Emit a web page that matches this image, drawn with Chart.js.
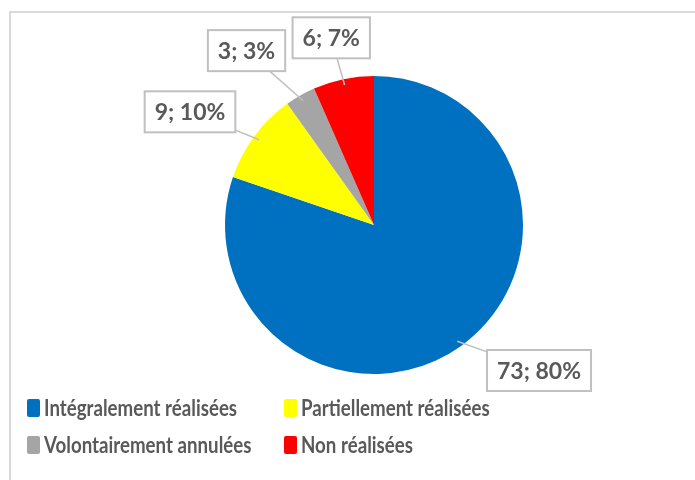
<!DOCTYPE html>
<html lang="fr">
<head>
<meta charset="utf-8">
<script src="https://cdn.jsdelivr.net/npm/chart.js@4.4.0/dist/chart.umd.min.js"></script>
<style>
  html, body { margin: 0; padding: 0; background: #fff; }
  #cadre { width: 695px; height: 480px; position: relative; }
</style>
</head>
<body>
<div id="cadre"><canvas id="grafica"></canvas></div>
<script>
// Données du graphique
const categories = ['Intégralement réalisées', 'Partiellement réalisées', 'Volontairement annulées', 'Non réalisées'];
const valeurs = [73, 9, 3, 6];
const couleurs = ['#0070C0', '#FFFF00', '#A5A5A5', '#FF0000'];

// Réglages des étiquettes (décalage d'angle en degrés, distance au centre en px)
const decalAngle = [-13, -5, -6.5, -1];
const distEtiquette = [220, 216, 216, 192];

const GRIS_TEXTE = '#595959';
const POLICE = 'Lato, "Open Sans", sans-serif';

// Cadre gris clair autour du graphique
const pluginCadre = {
  id: 'cadre',
  beforeDraw(chart) {
    const ctx = chart.ctx;
    ctx.save();
    ctx.fillStyle = '#fff';
    ctx.fillRect(0, 0, chart.width, chart.height);
    ctx.strokeStyle = '#d9d9d9';
    ctx.lineWidth = 2;
    ctx.beginPath();
    ctx.moveTo(10, chart.height);
    ctx.lineTo(10, 12);
    ctx.lineTo(chart.width, 12);
    ctx.stroke();
    ctx.restore();
  }
};

// Étiquettes "valeur; pourcentage" avec lignes de repère
const pluginEtiquettes = {
  id: 'etiquettes',
  afterDatasetsDraw(chart) {
    const ctx = chart.ctx;
    const total = valeurs.reduce((a, b) => a + b, 0);
    const meta = chart.getDatasetMeta(0);
    ctx.save();
    ctx.font = 'bold 23px ' + POLICE;
    ctx.textAlign = 'center';
    ctx.textBaseline = 'middle';
    meta.data.forEach((arc, i) => {
      const p = arc.getProps(['x', 'y', 'startAngle', 'endAngle', 'outerRadius'], true);
      const mid = (p.startAngle + p.endAngle) / 2;
      const a = mid + decalAngle[i] * Math.PI / 180;
      const cx = p.x + Math.cos(a) * distEtiquette[i];
      const cy = p.y + Math.sin(a) * distEtiquette[i];
      const texte = valeurs[i] + '; ' + Math.round(valeurs[i] / total * 100) + '%';
      const w = ctx.measureText(texte).width + 20;
      const h = 41;

      // ligne de repère : du point dans la part jusqu'au bord de la boîte
      const ax = p.x + Math.cos(mid) * p.outerRadius * 0.96;
      const ay = p.y + Math.sin(mid) * p.outerRadius * 0.96;
      const dx = ax - cx, dy = ay - cy;
      const s = Math.min((w / 2) / Math.abs(dx || 1e-6), (h / 2) / Math.abs(dy || 1e-6));
      ctx.strokeStyle = '#bfbfbf';
      ctx.lineWidth = 1.5;
      ctx.beginPath();
      ctx.moveTo(ax, ay);
      ctx.lineTo(cx + dx * s, cy + dy * s);
      ctx.stroke();

      // boîte
      ctx.fillStyle = '#fff';
      ctx.fillRect(cx - w / 2, cy - h / 2, w, h);
      ctx.strokeStyle = '#c0c0c0';
      ctx.lineWidth = 2;
      ctx.strokeRect(cx - w / 2, cy - h / 2, w, h);

      ctx.fillStyle = GRIS_TEXTE;
      ctx.fillText(texte, cx, cy + 1);
    });
    ctx.restore();
  }
};

// Légende sur deux colonnes en bas
const pluginLegende = {
  id: 'legende',
  afterDraw(chart) {
    const ctx = chart.ctx;
    const colX = [27, 284];
    const ligneY = [408, 445];
    const serrage = 0.85; // texte un peu condensé, comme Calibri
    ctx.save();
    ctx.font = 'bold 22px ' + POLICE;
    ctx.textBaseline = 'middle';
    categories.forEach((cat, i) => {
      const x = colX[i % 2];
      const y = ligneY[Math.floor(i / 2)];
      ctx.fillStyle = couleurs[i];
      ctx.beginPath();
      ctx.roundRect(x, y - 9, 13, 18, 2);
      ctx.fill();
      ctx.save();
      ctx.translate(x + 17, y + 1);
      ctx.scale(serrage, 1);
      ctx.fillStyle = GRIS_TEXTE;
      ctx.fillText(cat, 0, 0);
      ctx.restore();
    });
    ctx.restore();
  }
};

new Chart(document.getElementById('grafica'), {
  type: 'pie',
  data: {
    labels: categories,
    datasets: [{
      data: valeurs,
      backgroundColor: couleurs,
      borderWidth: 0
    }]
  },
  options: {
    responsive: true,
    maintainAspectRatio: false,
    animation: false,
    layout: { padding: { top: 76, bottom: 106, left: 225, right: 172 } },
    plugins: {
      legend: { display: false },
      tooltip: { enabled: false }
    }
  },
  plugins: [pluginCadre, pluginEtiquettes, pluginLegende]
});
</script>
</body>
</html>
